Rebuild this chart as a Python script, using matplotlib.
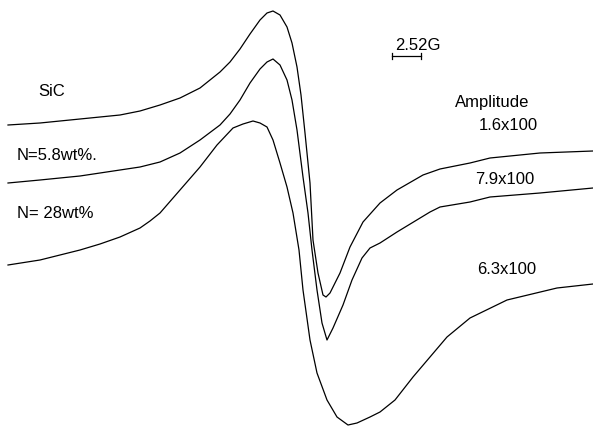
import matplotlib
matplotlib.use("Agg")
import matplotlib.pyplot as plt

# traced EPR derivative curves (field position, signal in picture units, downward positive)
sic_x = [8, 40, 80, 120, 140, 160, 180, 200, 210, 220, 230, 240, 250, 260, 267, 273,
         280, 287, 292, 297, 301, 305, 310, 313, 318, 323, 326, 330, 340, 350,
         363, 380, 397, 423, 440, 470, 490, 540, 593]
sic_y = [125, 123, 119, 115, 111, 105, 98, 88, 80, 72, 62, 49, 34, 20, 13, 11,
         15, 27, 43, 67, 95, 133, 183, 240, 273, 295, 297, 293, 273, 247,
         222, 203, 190, 175, 169, 163, 158, 153, 151]

n58_x = [8, 40, 80, 120, 140, 160, 180, 200, 220, 230, 240, 250, 260, 267, 273,
         280, 287, 292, 297, 303, 308, 312, 317, 322, 327, 333, 343, 352, 362,
         370, 380, 397, 430, 440, 470, 490, 540, 593]
n58_y = [183, 180, 176, 170, 167, 162, 153, 140, 125, 114, 100, 83, 69, 62, 59,
         65, 80, 100, 130, 177, 213, 250, 290, 323, 340, 328, 305, 280, 258,
         248, 243, 232, 212, 207, 202, 197, 193, 188]

n28_x = [8, 40, 80, 100, 120, 140, 150, 160, 180, 200, 217, 233, 243, 253, 260,
         267, 273, 280, 287, 293, 299, 303, 310, 317, 327, 337, 348, 357, 370,
         380, 395, 413, 430, 447, 470, 507, 557, 593]
n28_y = [265, 260, 250, 244, 237, 228, 221, 213, 190, 167, 145, 128, 124, 121, 123,
         127, 140, 163, 187, 213, 250, 290, 340, 373, 400, 417, 425, 423, 417,
         412, 400, 377, 357, 337, 318, 300, 288, 284]

labels = ["SiC", "N=5.8wt%.", "N= 28wt%"]
amplitudes = ["1.6x100", "7.9x100", "6.3x100"]

fig = plt.figure(figsize=(5.93, 4.26), dpi=100)
ax = fig.add_axes([0, 0, 1, 1])
ax.set_xlim(0, 593)
ax.set_ylim(426, 0)
ax.axis("off")

for xs, ys in [(sic_x, sic_y), (n58_x, n58_y), (n28_x, n28_y)]:
    ax.plot(xs, ys, color="black", lw=0.9)

font = dict(family="Liberation Sans", fontsize=12, color="black")
ax.text(38, 92, labels[0], va="center", ha="left", **font)
ax.text(17, 155, labels[1], va="center", ha="left", **font)
ax.text(17, 214, labels[2], va="center", ha="left", **font)

ax.text(455, 103, "Amplitude", va="center", ha="left", **font)
ax.text(479, 125, amplitudes[0], va="center", ha="left", **font)
ax.text(475, 180, amplitudes[1], va="center", ha="left", **font)
ax.text(477, 270, amplitudes[2], va="center", ha="left", **font)

# 2.52 G scale bar
ax.text(395, 45, "2.52G", va="center", ha="left", **font)
ax.plot([392, 421], [56, 56], color="black", lw=0.9)
ax.plot([392, 392], [53, 59], color="black", lw=0.9)
ax.plot([421, 421], [53, 59], color="black", lw=0.9)

fig.savefig("out.png", dpi=100)
